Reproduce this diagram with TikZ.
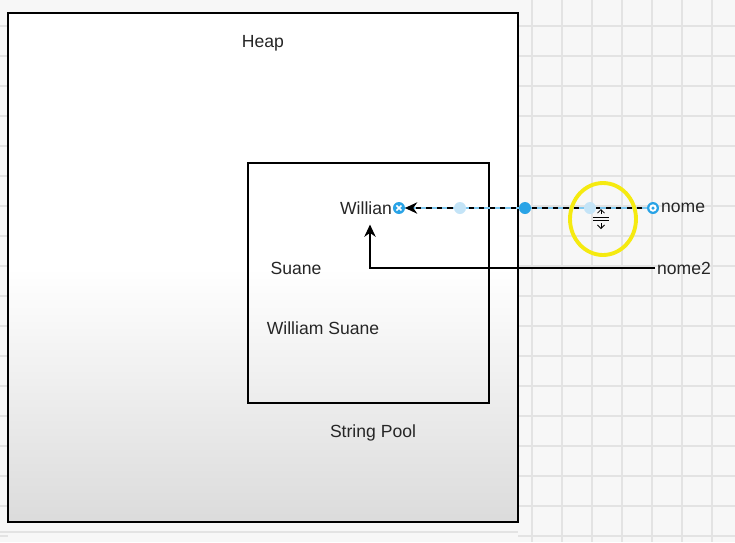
\documentclass[tikz,border=0pt]{standalone}
\usepackage{fontspec}
\setmainfont{Liberation Sans}
\usetikzlibrary{arrows.meta}
\definecolor{handleblue}{HTML}{29A3E6}
\definecolor{handlelight}{HTML}{C4E4F7}
\definecolor{ringyellow}{HTML}{F5EA10}
\begin{document}
\begin{tikzpicture}[x=0.02cm, y=-0.02cm, >={Stealth[length=7pt,width=6.5pt]},
    frame/.style={draw, line width=1pt, minimum width=#1},
    txt/.style={font=\fontsize{10}{12}\selectfont, inner sep=1pt, text=black!85},
    gridline/.style={black!11, line width=0.6pt},
    conn/.style={->, line width=0.9pt},
    handle/.style={circle, fill=handleblue, inner sep=0pt, minimum size=0.24cm}]
    \useasboundingbox (0,0) rectangle (735,542);

    % fundo com grelha
    \fill[black!3] (0,0) rectangle (735,542);
    \foreach \gx in {532,562,...,735} \draw[gridline] (\gx,0) -- (\gx,542);
    \foreach \gy in {26,56,...,542} \draw[gridline] (518,\gy) -- (735,\gy);
    \foreach \gy in {26,56,...,542} \draw[gridline] (0,\gy) -- (8,\gy);
    \draw[gridline] (0,532) -- (518,532);
    \shade[top color=white, bottom color=black!14] (8,268) rectangle (518,522);
    \fill[white] (8,13) rectangle (518,268);

    % caixas
    \node[frame=10.2cm, minimum height=10.18cm] (heap) at (263,267.5) {};
    \node[frame=4.82cm, minimum height=4.8cm] (pool) at (368.5,283) {};

    % textos
    \node[txt] (heaplbl) at (263,43) {Heap};
    \node[txt] (willian) at (366,208) {Willian};
    \node[txt] (suane) at (296,268) {Suane};
    \node[txt] (wsuane) at (323,328) {William Suane};
    \node[txt] (poollbl) at (373,433) {String Pool};
    \node[txt, anchor=west] (nome) at (659,208) {nome};
    \node[txt, anchor=west] (nome2) at (655,268) {nome2};

    % ligações
    \coordinate (src) at ([xshift=-0.12cm]nome.west);
    \coordinate (dst) at ([xshift=0.1cm]willian.east);
    \coordinate (tip) at ([xshift=0.22cm]willian.east);
    \node[handle] (h2) at (dst) {};
    \draw[white, line width=0.9pt] ([shift={(-0.05cm,-0.05cm)}]dst) -- ([shift={(0.05cm,0.05cm)}]dst)
        ([shift={(-0.05cm,0.05cm)}]dst) -- ([shift={(0.05cm,-0.05cm)}]dst);
    \draw[handleblue!60, line width=1.5pt] (src) -- (tip);
    \draw[conn, dashed] (src) -- (tip);
    \draw[conn] (nome2.west) -| ([xshift=0.08cm,yshift=-0.16cm]willian.south);

    % pontos de controlo
    \node[handle, fill=handlelight] (m1) at (460,208) {};
    \node[handle] (m2) at (525,208) {};
    \node[handle, fill=handlelight] (m3) at (590,208) {};
    \node[handle] (h1) at (src) {};
    \fill[white] (src) circle (0.075cm);
    \fill[handleblue] (src) circle (0.035cm);

    % cursor
    \draw[ringyellow, line width=2.2pt] (603,219) ellipse [x radius=0.66cm, y radius=0.72cm];
    \draw[black, line width=0.5pt] (593,217) -- (609,217) (593,220) -- (609,220);
    \draw[black, line width=0.5pt, -{Straight Barb[length=2pt]}] (601,214) -- (601,209);
    \draw[black, line width=0.5pt, -{Straight Barb[length=2pt]}] (601,223) -- (601,229);
\end{tikzpicture}
\end{document}
